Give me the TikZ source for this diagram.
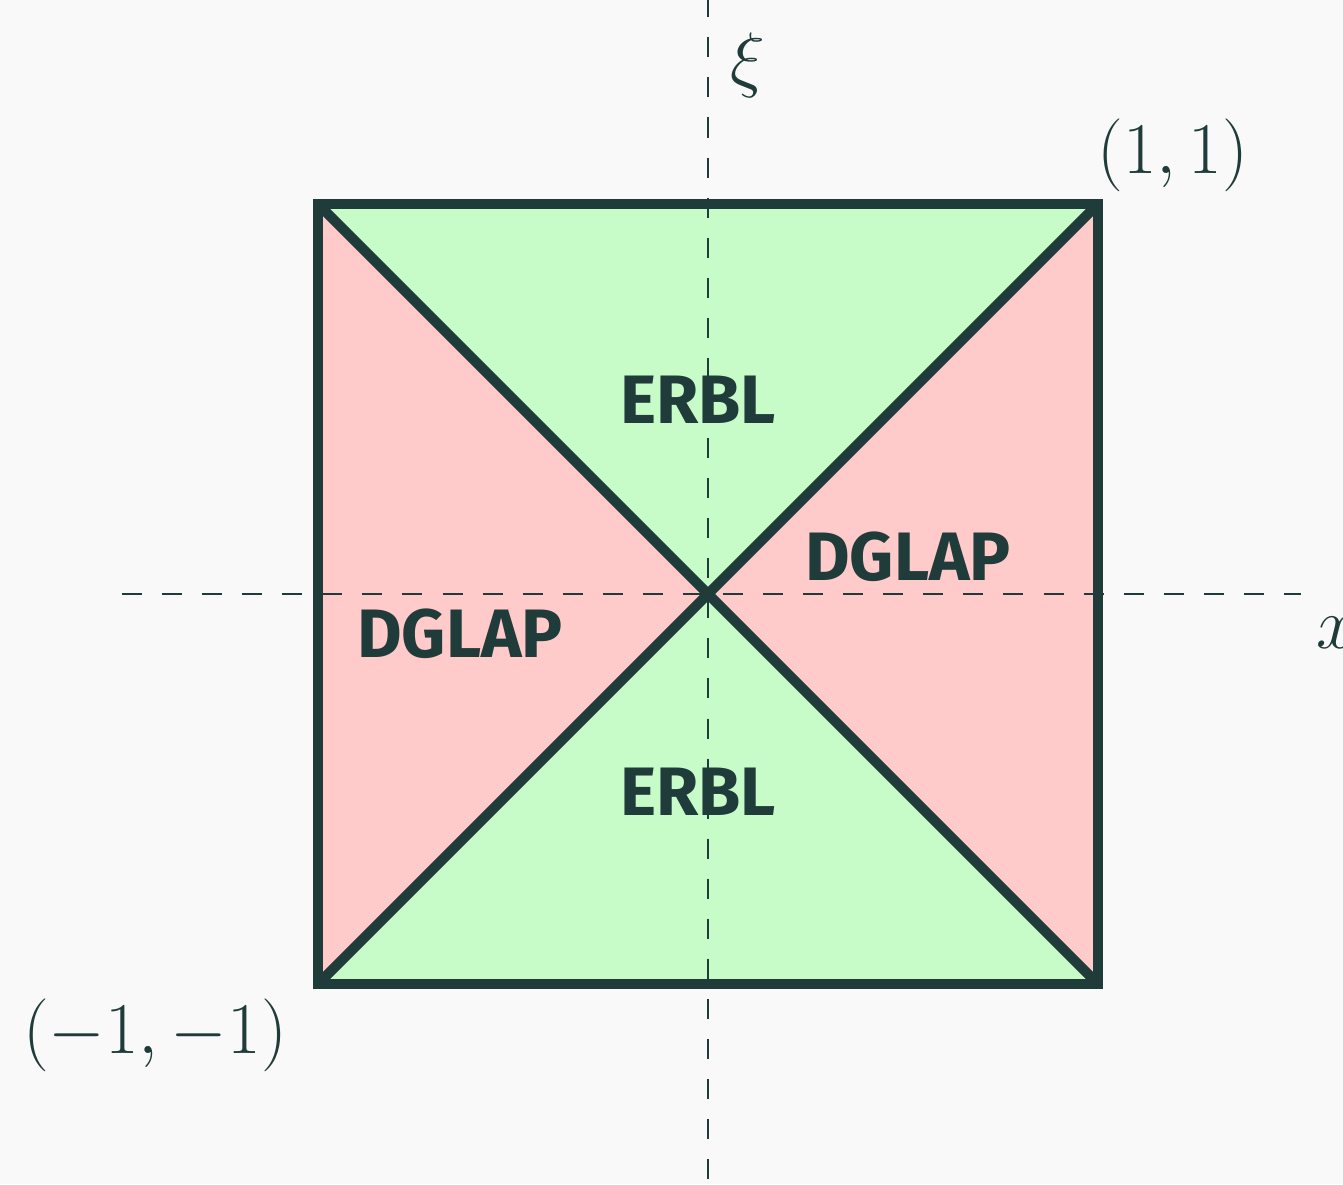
\documentclass[tikz,border=0pt]{standalone}
\usepackage{fontspec}
\usepackage{xcolor}
\usetikzlibrary{positioning}
\newfontfamily\regionfont{Fira Sans}
\definecolor{ink}{HTML}{1F3B3A}
\definecolor{erblgreen}{HTML}{C7FBC8}
\definecolor{dglapred}{HTML}{FFCACA}
\definecolor{paper}{HTML}{F9F9F9}

\begin{document}
\begin{tikzpicture}[
    x=3.9cm, y=3.9cm,
    every node/.style={text=ink},
    region/.style={font=\regionfont\bfseries\fontsize{19.5}{24}\selectfont},
    coord/.style={font=\fontsize{20.5}{24}\selectfont},
    axis/.style={ink, line width=0.6pt, dash pattern=on 5.7pt off 5.7pt},
    border/.style={ink, line width=2.9pt, line join=miter}
]
% canvas
\fill[paper] (-1.8154,-1.5128) rectangle (1.6282,1.5231);
\useasboundingbox (-1.8154,-1.5128) rectangle (1.6282,1.5231);

% corners of the (x,xi) square
\coordinate (SW) at (-1,-1);
\coordinate (SE) at (1,-1);
\coordinate (NE) at (1,1);
\coordinate (NW) at (-1,1);
\coordinate (O)  at (0,0);

% ERBL and DGLAP regions
\fill[erblgreen] (NW) -- (NE) -- (O) -- cycle;
\fill[erblgreen] (SW) -- (SE) -- (O) -- cycle;
\fill[dglapred] (NW) -- (SW) -- (O) -- cycle;
\fill[dglapred] (NE) -- (SE) -- (O) -- cycle;

% axes
\draw[axis] (-1.5026,0) -- (1.52,0);
\draw[axis] (0,1.53) -- (0,-1.53);
\node[coord] (xlab) at (1.611,-0.1) {$x$};
\node[coord] (xilab) at (0.103,1.356) {$\xi$};

% square and diagonals
\draw[border] (NW) -- (NE) -- (SE) -- (SW) -- cycle;
\draw[border] (SW) -- (NE);
\draw[border] (NW) -- (SE);

% region names
\node[region] (erblup) at (-0.0256,0.497) {ERBL};
\node[region] (erbldown) at (-0.0256,-0.508) {ERBL};
\node[region] (dglapright) at (0.513,0.095) {DGLAP};
\node[region] (dglapleft) at (-0.636,-0.103) {DGLAP};

% corner labels
\node[coord] (ne) at (1.192,1.126) {$(1,1)$};
\node[coord] (sw) at (-1.418,-1.131) {$(-1,-1)$};
\end{tikzpicture}
\end{document}
